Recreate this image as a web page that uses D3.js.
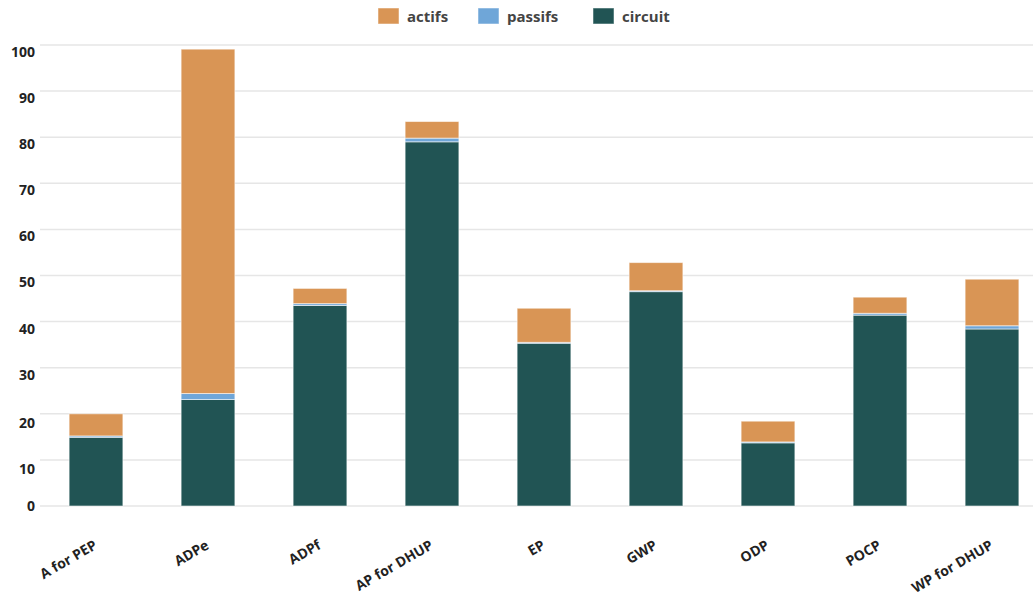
<!DOCTYPE html>
<html>
<head>
<meta charset="utf-8">
<script src="https://cdn.jsdelivr.net/npm/d3@7"></script>
<style>
  html, body { margin: 0; padding: 0; background: #fff; }
  svg { display: block; font-family: "Open Sans", "Noto Sans", sans-serif; }
</style>
</head>
<body>
<svg id="chart" width="1033" height="598"></svg>
<script>
// Impact categories and stacked contributions
const categories = ["A for PEP", "ADPe", "ADPf", "AP for DHUP", "EP", "GWP", "ODP", "POCP", "WP for DHUP"];
const circuit = [14.9, 23.1, 43.5, 79.0, 35.3, 46.5, 13.7, 41.4, 38.4];
const passifs = [0.3, 1.3, 0.4, 0.8, 0.2, 0.2, 0.2, 0.4, 0.7];
const actifs  = [4.8, 74.7, 3.3, 3.6, 7.4, 6.1, 4.5, 3.5, 10.1];
const seriesNames = ["circuit", "passifs", "actifs"];
const legendOrder = ["actifs", "passifs", "circuit"];
const yTicks = [0, 10, 20, 30, 40, 50, 60, 70, 80, 90, 100];

const colors = { actifs: "#D99555", passifs: "#6FA6D8", circuit: "#215454" };

const svg = d3.select("#chart");
const margin = { left: 40, right: -15, top: 45, bottom: 92 };
const W = 1033, H = 598;

const x = d3.scaleBand()
  .domain(categories)
  .range([margin.left, W - margin.right])
  .paddingInner(0.52)
  .paddingOuter(0.26);

const y = d3.scaleLinear()
  .domain([0, 100])
  .range([H - margin.bottom, margin.top]);

// Gridlines
svg.append("g")
  .selectAll("line")
  .data(yTicks)
  .join("line")
  .attr("x1", margin.left)
  .attr("x2", W)
  .attr("y1", d => y(d))
  .attr("y2", d => y(d))
  .attr("stroke", "#e6e6e6")
  .attr("stroke-width", 1.5);

// Y axis labels, hanging just below their gridline
const yAxis = d3.axisLeft(y).tickValues(yTicks).tickSize(0).tickPadding(5);
const yg = svg.append("g")
  .attr("transform", `translate(${margin.left},0)`)
  .call(yAxis);
yg.select(".domain").remove();
yg.selectAll("text")
  .attr("font-family", "'Open Sans', sans-serif")
  .attr("font-size", 14)
  .attr("font-weight", "bold")
  .attr("fill", "#222")
  .attr("dy", d => d === 0 ? "0.3em" : (d <= 20 ? "1.0em" : "0.82em"));

// Stacked bars
const rows = categories.map((c, i) => ({
  cat: c, circuit: circuit[i], passifs: passifs[i], actifs: actifs[i]
}));
const stack = d3.stack().keys(seriesNames)(rows);

svg.append("g")
  .selectAll("g")
  .data(stack)
  .join("g")
  .attr("fill", d => colors[d.key])
  .selectAll("rect")
  .data(d => d)
  .join("rect")
  .attr("x", d => x(d.data.cat))
  .attr("width", x.bandwidth())
  .attr("y", d => y(d[1]))
  .attr("height", d => y(d[0]) - y(d[1]))
  .attr("stroke", "rgba(255,255,255,0.55)")
  .attr("stroke-width", 1);

// X axis labels, rotated
const xAxis = d3.axisBottom(x).tickSize(0).tickPadding(0);
const xg = svg.append("g")
  .attr("transform", `translate(0,${H - margin.bottom})`)
  .call(xAxis);
xg.select(".domain").remove();
xg.selectAll("text")
  .attr("font-family", "'Open Sans', sans-serif")
  .attr("font-size", 14)
  .attr("font-weight", "bold")
  .attr("fill", "#222")
  .attr("text-anchor", "end")
  .attr("y", 0)
  .attr("dy", 0)
  .attr("transform", "translate(2,42) rotate(-30)");

// Legend
const legendX = [378, 478, 593];
const lg = svg.append("g");
legendOrder.forEach((k, i) => {
  const g = lg.append("g").attr("transform", `translate(${legendX[i]},8)`);
  g.append("rect")
    .attr("width", 21).attr("height", 16)
    .attr("fill", colors[k])
    .attr("stroke", "rgba(255,255,255,0.5)");
  g.append("text")
    .attr("x", 29).attr("y", 9)
    .attr("dy", "0.35em")
    .attr("font-size", 15)
    .attr("font-weight", "bold")
    .attr("fill", "#444")
    .text(k);
});
</script>
</body>
</html>
